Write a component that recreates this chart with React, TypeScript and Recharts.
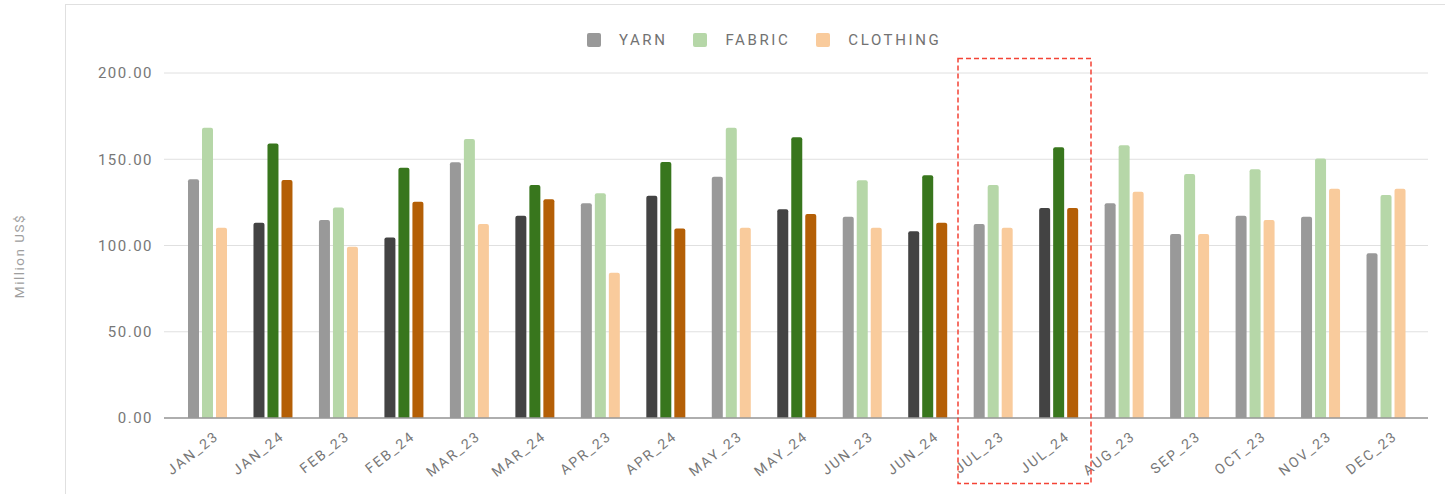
import React from 'react';
import { BarChart, Bar, XAxis, YAxis, CartesianGrid, Cell, Legend } from 'recharts';

const months = [
  'JAN_23', 'JAN_24', 'FEB_23', 'FEB_24', 'MAR_23', 'MAR_24', 'APR_23', 'APR_24',
  'MAY_23', 'MAY_24', 'JUN_23', 'JUN_24', 'JUL_23', 'JUL_24', 'AUG_23', 'SEP_23',
  'OCT_23', 'NOV_23', 'DEC_23',
];
const yarn = [138.4, 113.2, 114.8, 104.7, 148.2, 117.3, 124.5, 128.9, 139.9, 121.0, 116.7, 108.2, 112.5, 121.7, 124.5, 106.7, 117.3, 116.7, 95.5];
const fabric = [168.3, 159.2, 122.1, 145.1, 161.7, 135.1, 130.3, 148.4, 168.3, 162.7, 137.8, 140.7, 135.1, 156.9, 158.1, 141.4, 144.2, 150.5, 129.3];
const clothing = [110.3, 138.0, 99.3, 125.4, 112.5, 126.8, 84.2, 109.8, 110.3, 118.3, 110.3, 113.2, 110.3, 121.7, 131.2, 106.7, 114.8, 132.9, 132.9];
const yTicks = [0, 50, 100, 150, 200];

const series = [
  { key: 'yarn', name: 'YARN', light: '#999999', dark: '#434343' },
  { key: 'fabric', name: 'FABRIC', light: '#b6d7a8', dark: '#38761d' },
  { key: 'clothing', name: 'CLOTHING', light: '#f9cb9c', dark: '#b45f06' },
];

const data = months.map((m, i) => ({ month: m, yarn: yarn[i], fabric: fabric[i], clothing: clothing[i] }));

const FONT = 'Roboto, "Noto Sans", sans-serif';

const MonthTick = (props: any) => {
  const { x, payload } = props;
  return (
    <g transform={`translate(${x + 12},${438})`}>
      <text
        x={0}
        y={0}
        textAnchor="end"
        transform="rotate(-38)"
        fill="#777"
        fontSize={14}
        letterSpacing={2}
        fontFamily={FONT}
      >
        {payload.value}
      </text>
    </g>
  );
};

// axis title sits a bit below the plot middle in the original
const YTitle = () => (
  <text
    x={0}
    y={0}
    transform="translate(24,256) rotate(-90)"
    textAnchor="middle"
    fill="#9e9e9e"
    fontSize={13.5}
    letterSpacing={1.5}
    fontFamily={FONT}
  >
    Million US$
  </text>
);

const LegendBox = () => (
  <div style={{ display: 'flex', alignItems: 'center', height: 20, paddingLeft: 587, fontFamily: FONT }}>
    {series.map((s, i) => (
      <div key={s.key} style={{ display: 'flex', alignItems: 'center', marginRight: i < 2 ? 26 : 0 }}>
        <span style={{ width: 14, height: 14, background: s.light, borderRadius: 2, display: 'inline-block' }} />
        <span style={{ marginLeft: 18, fontSize: 15, letterSpacing: 2.6, color: '#727272' }}>{s.name}</span>
      </div>
    ))}
  </div>
);

export default function App() {
  return (
    <div style={{ position: 'fixed', left: 0, top: 0, width: 1445, height: 494, overflow: 'hidden', background: '#fff' }}>
      <div style={{ position: 'absolute', left: 65, top: 4, width: 1420, height: 520, border: '1px solid #e0e0e0' }} />
      <BarChart
        width={1445}
        height={494}
        data={data}
        margin={{ top: 53, right: 17, bottom: 16, left: 0 }}
        barSize={11}
        barGap={3}
        style={{ position: 'absolute', left: 0, top: 0 }}
      >
        <CartesianGrid vertical={false} stroke="#e0e0e0" />
        <Legend verticalAlign="top" content={<LegendBox />} wrapperStyle={{ top: 30, left: 0, width: 1445 }} />
        <XAxis
          dataKey="month"
          interval={0}
          height={60}
          padding={{ left: 11, right: 9 }}
          tickLine={false}
          axisLine={{ stroke: '#999', strokeWidth: 1.5 }}
          tick={<MonthTick />}
        />
        <YAxis
          width={164}
          domain={[0, 200]}
          ticks={yTicks}
          tickFormatter={(v: number) => v.toFixed(2)}
          axisLine={false}
          tickLine={false}
          tickSize={0}
          tickMargin={11}
          tick={{ fill: '#777', fontSize: 15, letterSpacing: 1.5, fontFamily: FONT }}
          label={{ content: <YTitle /> }}
        />
        {series.map((s) => (
          <Bar key={s.key} dataKey={s.key} name={s.name} fill={s.light} radius={[2, 2, 0, 0]} isAnimationActive={false}>
            {months.map((m) => (
              <Cell key={m} fill={m.endsWith('_24') ? s.dark : s.light} />
            ))}
          </Bar>
        ))}
      </BarChart>
      <svg width={1445} height={494} style={{ position: 'absolute', left: 0, top: 0, pointerEvents: 'none' }}>
        <rect x={958} y={58.5} width={133} height={425} fill="none" stroke="#f44336" strokeWidth={1.5} strokeDasharray="5 3" />
      </svg>
    </div>
  );
}
